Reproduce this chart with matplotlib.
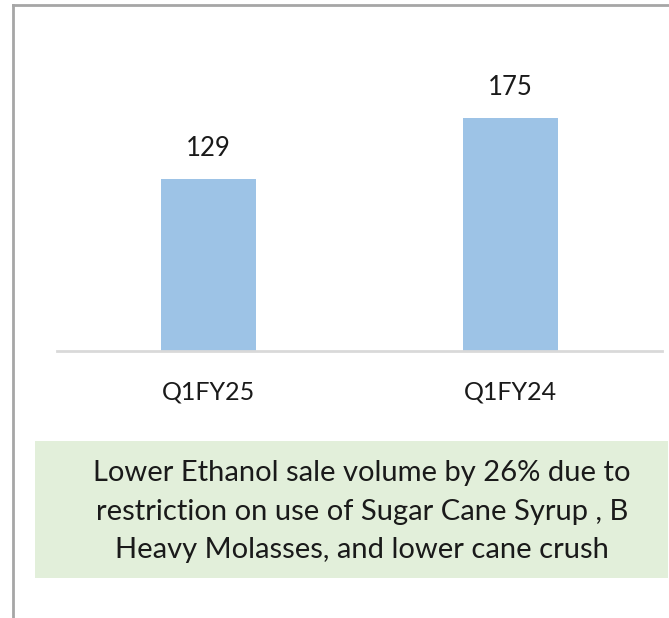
import matplotlib
matplotlib.use("Agg")
import matplotlib.pyplot as plt
from matplotlib.patches import Rectangle
from matplotlib.lines import Line2D

categories = ["Q1FY25", "Q1FY24"]
values = [129, 175]
note_lines = ["Lower Ethanol sale volume by 26% due to",
              "restriction on use of Sugar Cane Syrup , B",
              "Heavy Molasses, and lower cane crush"]

W, H = 669, 618
fig = plt.figure(figsize=(W/100, H/100), dpi=100)
fig.patch.set_facecolor("white")
FONT = "Lato"

def fx(px): return px / W
def fy(py): return 1 - py / H

# frame lines
fig.add_artist(Line2D([fx(13), fx(13)], [fy(5), fy(618)], color="#A6A6A6", lw=2, transform=fig.transFigure))
fig.add_artist(Line2D([fx(13), fx(669)], [fy(5), fy(5)], color="#A6A6A6", lw=2, transform=fig.transFigure))

# axes
ax_left, ax_right, ax_base, ax_top = 57, 662, 351, 18
ax = fig.add_axes([fx(ax_left), fy(ax_base), (ax_right-ax_left)/W, (ax_base-ax_top)/H])
ax.set_facecolor("none")
x = list(range(len(categories)))
bars = ax.bar(x, values, width=0.314, color="#9DC3E6", zorder=2)
ax.set_xlim(-0.5, len(categories)-0.5)
ax.set_ylim(0, 250)
for s in ["top", "right", "left"]:
    ax.spines[s].set_visible(False)
ax.spines["bottom"].set_color("#D9D9D9")
ax.spines["bottom"].set_linewidth(2)
ax.set_yticks([])
ax.set_xticks(x)
ax.set_xticklabels(categories, fontsize=18, family=FONT, color="#1a1a1a")
ax.tick_params(axis="x", length=0, pad=21)
for xi, v in zip(x, values):
    ax.annotate(str(v), (xi, v), xytext=(0, 22), textcoords="offset points",
                ha="center", va="center", fontsize=18.5, family=FONT, color="#1a1a1a")

# note box
fig.add_artist(Rectangle((fx(35), fy(578)), (668-35)/W, (578-441)/H,
                         transform=fig.transFigure, facecolor="#E2EFDA", edgecolor="none"))
for i, (line, yc) in enumerate(zip(note_lines, [473, 512, 550])):
    fig.text(fx(362), fy(yc), line, ha="center", va="center", fontsize=21,
             family=FONT, color="#1a1a1a")

fig.savefig("out.png", dpi=100)
